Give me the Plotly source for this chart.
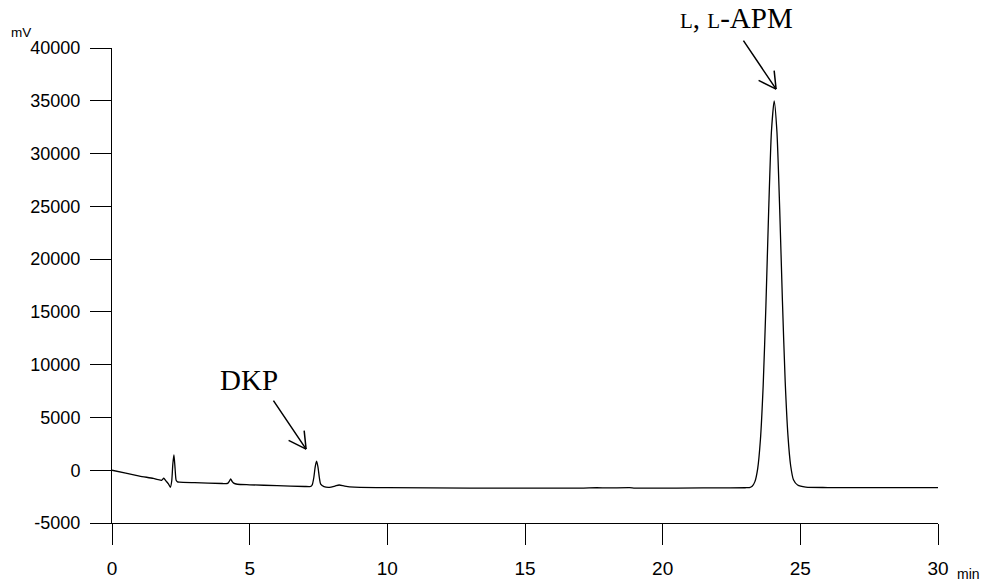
import plotly.graph_objects as go

# Chromatogram signal (min, mV)
time_min = [0.0, 0.5, 1.0, 1.5, 1.8, 1.88, 1.95, 2.05, 2.12, 2.17, 2.21, 2.25, 2.29, 2.33, 2.38, 2.45,
            3.0, 4.0, 4.2, 4.26, 4.31, 4.36, 4.42, 4.55, 5.0, 6.0, 7.0, 7.18,
            7.23, 7.28, 7.33, 7.38, 7.43, 7.48, 7.53, 7.58, 7.7, 7.9, 8.1, 8.25, 8.45, 8.8,
            10.0, 13.0, 17.0, 17.6, 18.0, 18.8, 19.0, 22.0, 23.0,
            23.15, 23.25, 23.35, 23.45, 23.55, 23.65, 23.75, 23.85, 23.95,
            24.05, 24.15, 24.25, 24.35, 24.45, 24.55, 24.65, 24.75, 24.9, 25.2, 26.0, 30.0]
signal_mv = [0, -280, -550, -780, -950, -760, -980, -1300, -1620, -1000, 600, 1440, 200, -950, -1100, -1130,
             -1180, -1260, -1250, -1050, -830, -1050, -1220, -1330, -1380, -1460, -1540, -1550,
             -1520, -1320, -690, 320, 870, 320, -690, -1320, -1560, -1620, -1500, -1400, -1500, -1600,
             -1650, -1690, -1700, -1660, -1680, -1650, -1690, -1670, -1660,
             -1640, -1520, -1080, 130, 2880, 7980, 15630, 24600, 32070, 35000,
             32070, 24800, 16000, 8400, 3300, 400, -900, -1400, -1600, -1640, -1650, -1650]

x_tickvals = [0, 5, 10, 15, 20, 25, 30]
x_ticktext = ["0", "5", "10", "15", "20", "25", "30"]
y_tickvals = [-5000, 0, 5000, 10000, 15000, 20000, 25000, 30000, 35000, 40000]
y_ticktext = ["-5000", "0", "5000", "10000", "15000", "20000", "25000", "30000", "35000", "40000"]

# peak labels: (text, arrow tip time, arrow tip signal)
peak_labels = [
    ("DKP", 7.05, 2000),
    ('<span style="font-size:21px">L</span>, <span style="font-size:21px">L</span>-APM', 24.12, 36100),
]

fig = go.Figure()
fig.add_trace(go.Scatter(x=time_min, y=signal_mv, mode="lines",
                         line=dict(color="black", width=1.3, shape="spline", smoothing=0.6),
                         hoverinfo="skip", showlegend=False))

axis_common = dict(showline=True, linecolor="black", linewidth=1, ticks="outside", ticklen=21,
                   tickcolor="black", tickwidth=1, showgrid=False, zeroline=False, automargin=False)

fig.update_layout(
    width=984, height=586,
    margin=dict(l=112, r=46, t=48, b=63),
    paper_bgcolor="white", plot_bgcolor="white",
    xaxis=dict(range=[0, 30], tickvals=x_tickvals, ticktext=x_ticktext, ticklabelstandoff=7,
               tickfont=dict(family="Liberation Sans, Arial", size=19, color="black"), **axis_common),
    yaxis=dict(range=[-5000, 40000], tickvals=y_tickvals, ticktext=y_ticktext, ticklabelstandoff=6,
               tickfont=dict(family="Liberation Sans, Arial", size=18, color="black"), **axis_common),
)

# axis unit labels
fig.add_annotation(text="mV", xref="paper", yref="paper", x=(21 - 112) / 826, y=(523 - 32) / 475,
                   showarrow=False, xanchor="center", yanchor="middle",
                   font=dict(family="Liberation Sans, Arial", size=13.5, color="black"))
fig.add_annotation(text="min", xref="paper", yref="paper", x=(968 - 112) / 826, y=(523 - 574) / 475,
                   showarrow=False, xanchor="center", yanchor="middle",
                   font=dict(family="Liberation Sans, Arial", size=14, color="black"))

# arrows (pixel offsets from tip): shaft and two open head arms
arrow_parts = [(-33, -49), (-18, -9), (-2, -19)]
label_offsets = [(-57, -69), (-40, -71)]
for (txt, tx, ty), (lox, loy) in zip(peak_labels, label_offsets):
    for ax, ay in arrow_parts:
        fig.add_annotation(x=tx, y=ty, xref="x", yref="y", text="", showarrow=True,
                           arrowhead=0, arrowwidth=1.5, arrowcolor="black", ax=ax, ay=ay,
                           standoff=0, startstandoff=0, borderpad=0)
    fig.add_annotation(x=tx, y=ty, xref="x", yref="y", text=txt, showarrow=True,
                       arrowcolor="rgba(0,0,0,0)", ax=lox, ay=loy,
                       font=dict(family="Liberation Serif, Times New Roman", size=29, color="black"))

fig.write_html("out.html")
